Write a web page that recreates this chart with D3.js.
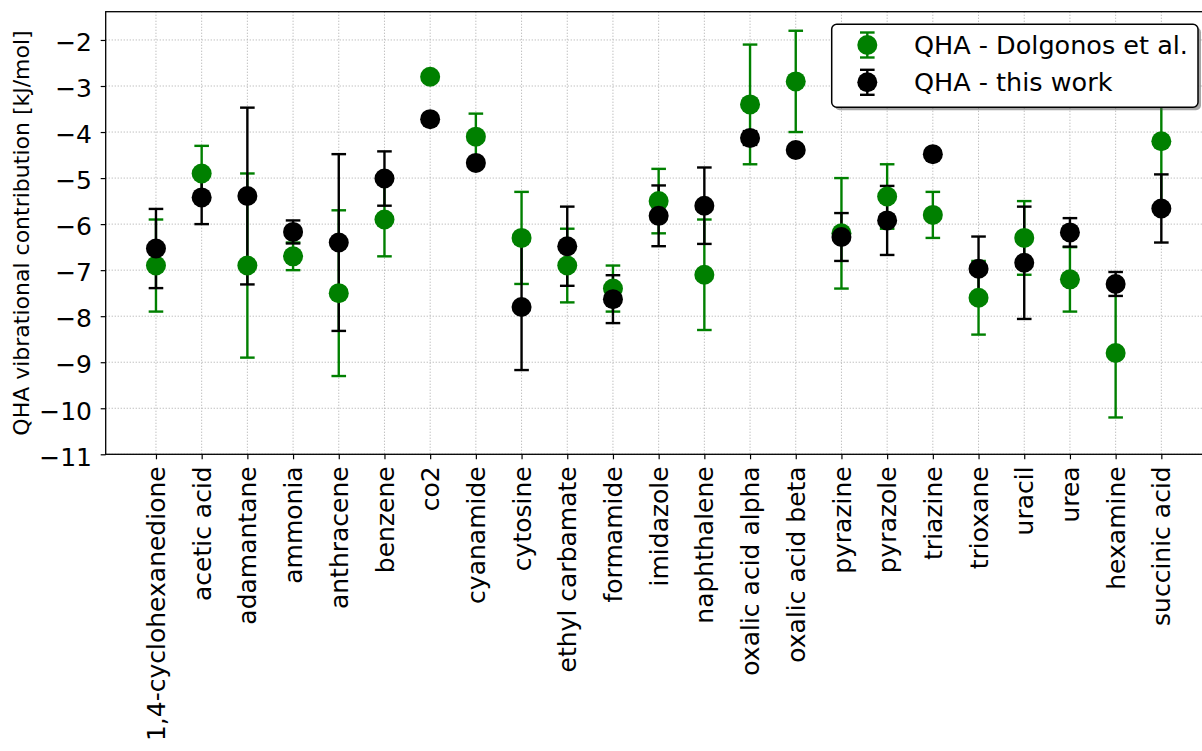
<!DOCTYPE html>
<html>
<head>
<meta charset="utf-8">
<script src="https://cdn.jsdelivr.net/npm/d3@7/dist/d3.min.js"></script>
<style>
  html, body { margin: 0; padding: 0; background: #ffffff; }
  svg { display: block; font-family: "DejaVu Sans", sans-serif; }
</style>
</head>
<body>
<svg id="chart" width="1202" height="751"></svg>
<script>
// Molecular crystals
const categories = [
  "1,4-cyclohexanedione", "acetic acid", "adamantane", "ammonia", "anthracene",
  "benzene", "co2", "cyanamide", "cytosine", "ethyl carbamate", "formamide",
  "imidazole", "naphthalene", "oxalic acid alpha", "oxalic acid beta", "pyrazine",
  "pyrazole", "triazine", "trioxane", "uracil", "urea", "hexamine", "succinic acid"
];

// QHA vibrational contribution [kJ/mol] – literature values
const dolgonosValues = [-6.9, -4.9, -6.9, -6.7, -7.5, -5.9, -2.8, -4.1, -6.3, -6.9, -7.4, -5.5,
  -7.1, -3.4, -2.9, -6.2, -5.4, -5.8, -7.6, -6.3, -7.2, -8.8, -4.2];
const dolgonosErrors = [1.0, 0.6, 2.0, 0.3, 1.8, 0.8, 0.0, 0.5, 1.0, 0.8, 0.5, 0.7,
  1.2, 1.3, 1.1, 1.2, 0.7, 0.5, 0.8, 0.8, 0.7, 1.4, 1.45];

// QHA vibrational contribution [kJ/mol] – this work
const thisWorkValues = [-6.53, -5.42, -5.39, -6.17, -6.40, -5.01, -3.72, -4.67, -7.80, -6.48, -7.63, -5.82,
  -5.60, -4.13, -4.39, -6.28, -5.92, -4.48, -6.97, -6.84, -6.18, -7.30, -5.66];
const thisWorkErrors = [0.86, 0.58, 1.92, 0.25, 1.92, 0.59, 0.0, 0.0, 1.37, 0.86, 0.52, 0.66,
  0.83, 0.15, 0.0, 0.52, 0.75, 0.0, 0.70, 1.22, 0.31, 0.26, 0.74];

const yTicks = [-11, -10, -9, -8, -7, -6, -5, -4, -3, -2];
const seriesNames = ["QHA - Dolgonos et al.", "QHA - this work"];
const seriesColors = ["#008000", "#000000"];

const series = [
  { name: seriesNames[0], color: seriesColors[0], values: dolgonosValues, errors: dolgonosErrors },
  { name: seriesNames[1], color: seriesColors[1], values: thisWorkValues, errors: thisWorkErrors }
];

const svg = d3.select("#chart");
const plotLeft = 105.7, plotRight = 1211.6, plotTop = 11.7, plotBottom = 454.3;

const x = d3.scaleLinear().domain([-1.1, categories.length - 1 + 1.1]).range([plotLeft, plotRight]);
const y = d3.scaleLinear().domain([-11, -1.386]).range([plotBottom, plotTop]);

const markerR = 10, capHalf = 7.3, lw = 2.4;

// grid
const grid = svg.append("g").attr("stroke", "#b0b0b0").attr("stroke-width", 1)
  .attr("stroke-dasharray", "1.1,1.9");
grid.selectAll("line.v").data(categories).join("line").attr("class", "v")
  .attr("x1", (d, i) => x(i)).attr("x2", (d, i) => x(i))
  .attr("y1", plotTop).attr("y2", plotBottom);
grid.selectAll("line.h").data(yTicks).join("line").attr("class", "h")
  .attr("x1", plotLeft).attr("x2", plotRight)
  .attr("y1", d => y(d)).attr("y2", d => y(d));

// error bars (drawn below all markers)
const bars = svg.append("g");
series.forEach(s => {
  const g = bars.append("g").attr("stroke", s.color).attr("stroke-width", lw);
  const pts = s.values.map((v, i) => ({ i, v, e: s.errors[i] })).filter(p => p.e > 0);
  g.selectAll("line.bar").data(pts).join("line").attr("class", "bar")
    .attr("x1", p => x(p.i)).attr("x2", p => x(p.i))
    .attr("y1", p => y(p.v + p.e)).attr("y2", p => y(p.v - p.e));
  g.selectAll("line.capTop").data(pts).join("line").attr("class", "capTop")
    .attr("x1", p => x(p.i) - capHalf).attr("x2", p => x(p.i) + capHalf)
    .attr("y1", p => y(p.v + p.e)).attr("y2", p => y(p.v + p.e));
  g.selectAll("line.capBot").data(pts).join("line").attr("class", "capBot")
    .attr("x1", p => x(p.i) - capHalf).attr("x2", p => x(p.i) + capHalf)
    .attr("y1", p => y(p.v - p.e)).attr("y2", p => y(p.v - p.e));
});

// markers
series.forEach(s => {
  svg.append("g").selectAll("circle").data(s.values).join("circle")
    .attr("cx", (d, i) => x(i)).attr("cy", d => y(d))
    .attr("r", markerR).attr("fill", s.color);
});

// axes
const yAxis = svg.append("g").attr("transform", `translate(${plotLeft},0)`)
  .call(d3.axisLeft(y).tickValues(yTicks).tickSize(5).tickPadding(8.7).tickFormat(d3.format("d")));
yAxis.selectAll("text").attr("font-size", 25).attr("fill", "#000").attr("dy", "0.43em")
  .attr("font-family", "DejaVu Sans");

const xAxis = svg.append("g").attr("transform", `translate(0,${plotBottom})`)
  .call(d3.axisBottom(x).tickValues(d3.range(categories.length)).tickSize(5)
    .tickFormat(i => categories[i]));
xAxis.selectAll("text")
  .attr("font-size", 25).attr("fill", "#000").attr("font-family", "DejaVu Sans")
  .attr("x", 0).attr("y", 0).attr("dy", null)
  .attr("text-anchor", "end")
  .attr("transform", "translate(8.6,12) rotate(-90)");

[yAxis, xAxis].forEach(a => {
  a.select(".domain").remove();
  a.selectAll(".tick line").attr("stroke", "#000").attr("stroke-width", 1.2);
});

// frame
svg.append("rect").attr("x", plotLeft).attr("y", plotTop)
  .attr("width", plotRight - plotLeft).attr("height", plotBottom - plotTop)
  .attr("fill", "none").attr("stroke", "#000").attr("stroke-width", 1.3);

// y label
svg.append("text")
  .attr("transform", "translate(29,233) rotate(-90)")
  .attr("text-anchor", "middle").attr("font-size", 22).attr("fill", "#000")
  .text("QHA vibrational contribution [kJ/mol]");

// legend
const lg = svg.append("g");
const lx = 831.7, ly = 24.3, lwid = 366.3, lh = 83;
lg.append("rect").attr("x", lx + 3).attr("y", ly + 3).attr("width", lwid).attr("height", lh)
  .attr("rx", 5).attr("fill", "#4d4d4d").attr("fill-opacity", 0.5);
lg.append("rect").attr("x", lx).attr("y", ly).attr("width", lwid).attr("height", lh)
  .attr("rx", 5).attr("fill", "#fff").attr("stroke", "#000").attr("stroke-width", 1.5);
const rowsY = [45, 82.3];
series.forEach((s, k) => {
  const cy = rowsY[k], cx = 867.3, h = 12.5;
  lg.append("line").attr("x1", cx).attr("x2", cx).attr("y1", cy - h).attr("y2", cy + h)
    .attr("stroke", s.color).attr("stroke-width", lw);
  [cy - h, cy + h].forEach(yy => lg.append("line")
    .attr("x1", cx - capHalf).attr("x2", cx + capHalf).attr("y1", yy).attr("y2", yy)
    .attr("stroke", s.color).attr("stroke-width", lw));
  lg.append("circle").attr("cx", cx).attr("cy", cy).attr("r", markerR).attr("fill", s.color);
  lg.append("text").attr("x", 914).attr("y", cy + 8.5).attr("font-size", 25.5).attr("fill", "#000")
    .text(s.name);
});
</script>
</body>
</html>
